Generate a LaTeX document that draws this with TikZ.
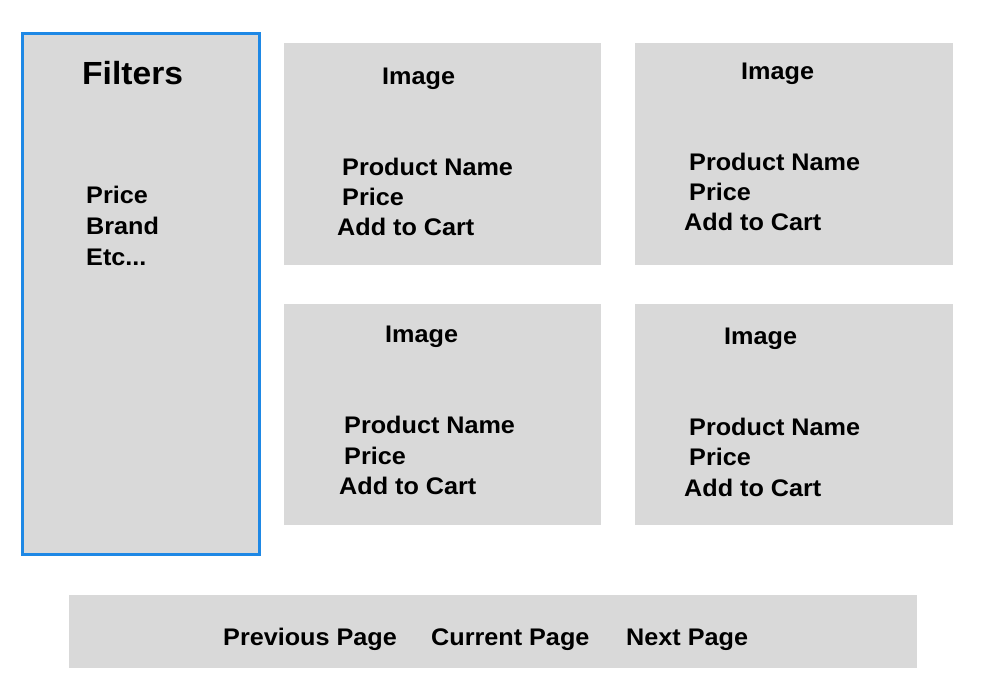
\documentclass[tikz,border=0pt]{standalone}
\usepackage{fontspec}
\setmainfont{Liberation Sans}[FakeStretch=1.05]
\definecolor{cardgray}{RGB}{217,217,217}
\definecolor{selblue}{RGB}{30,136,229}
\tikzset{
  card/.style={fill=cardgray, draw=none, inner sep=0pt, outer sep=0pt, anchor=north west},
  lbl/.style={anchor=base west, inner sep=0pt, font=\fontsize{24}{28}\selectfont\bfseries},
  big/.style={anchor=base west, inner sep=0pt, font=\fontsize{32}{38}\selectfont\bfseries}
}
\begin{document}
\begin{tikzpicture}[x=1pt,y=-1pt]
\useasboundingbox (0,0) rectangle (985,676);
\fill[white] (0,0) rectangle (985,676);
% filter panel
\node[card, minimum width=237pt, minimum height=521pt, draw=selblue, line width=3pt] (filters) at (22.5,33.5) {};
\node[big] (ftitle) at (82,85) {Filters};
\node[lbl] (fprice) at (86,204) {Price};
\node[lbl] (fbrand) at (86,235) {Brand};
\node[lbl] (fetc) at (86,266) {Etc...};
% cards
\node[card, minimum width=317.5pt, minimum height=222pt] (c1) at (283.5,42.7) {};
\node[card, minimum width=318pt, minimum height=222pt] (c2) at (635,42.7) {};
\node[card, minimum width=317.5pt, minimum height=221pt] (c3) at (283.5,304) {};
\node[card, minimum width=318pt, minimum height=221pt] (c4) at (635,304) {};
% card 1
\node[lbl] (c1img) at (382,85) {Image};
\node[lbl] (c1name) at (342,176) {Product Name};
\node[lbl] (c1price) at (342,206) {Price};
\node[lbl] (c1cart) at (337,236) {Add to Cart};
% card 2
\node[lbl] (c2img) at (741,80) {Image};
\node[lbl] (c2name) at (689,171) {Product Name};
\node[lbl] (c2price) at (689,201) {Price};
\node[lbl] (c2cart) at (684,231) {Add to Cart};
% card 3
\node[lbl] (c3img) at (385,342) {Image};
\node[lbl] (c3name) at (344,433) {Product Name};
\node[lbl] (c3price) at (344,464) {Price};
\node[lbl] (c3cart) at (339,494) {Add to Cart};
% card 4
\node[lbl] (c4img) at (724,344) {Image};
\node[lbl] (c4name) at (689,435) {Product Name};
\node[lbl] (c4price) at (689,465) {Price};
\node[lbl] (c4cart) at (684,496) {Add to Cart};
% pagination
\node[card, minimum width=848pt, minimum height=73pt] (pager) at (69,594.5) {};
\node[lbl] (prev) at (223,645.5) {Previous Page};
\node[lbl] (curr) at (431,645.5) {Current Page};
\node[lbl] (next) at (626,645.5) {Next Page};
\end{tikzpicture}
\end{document}
